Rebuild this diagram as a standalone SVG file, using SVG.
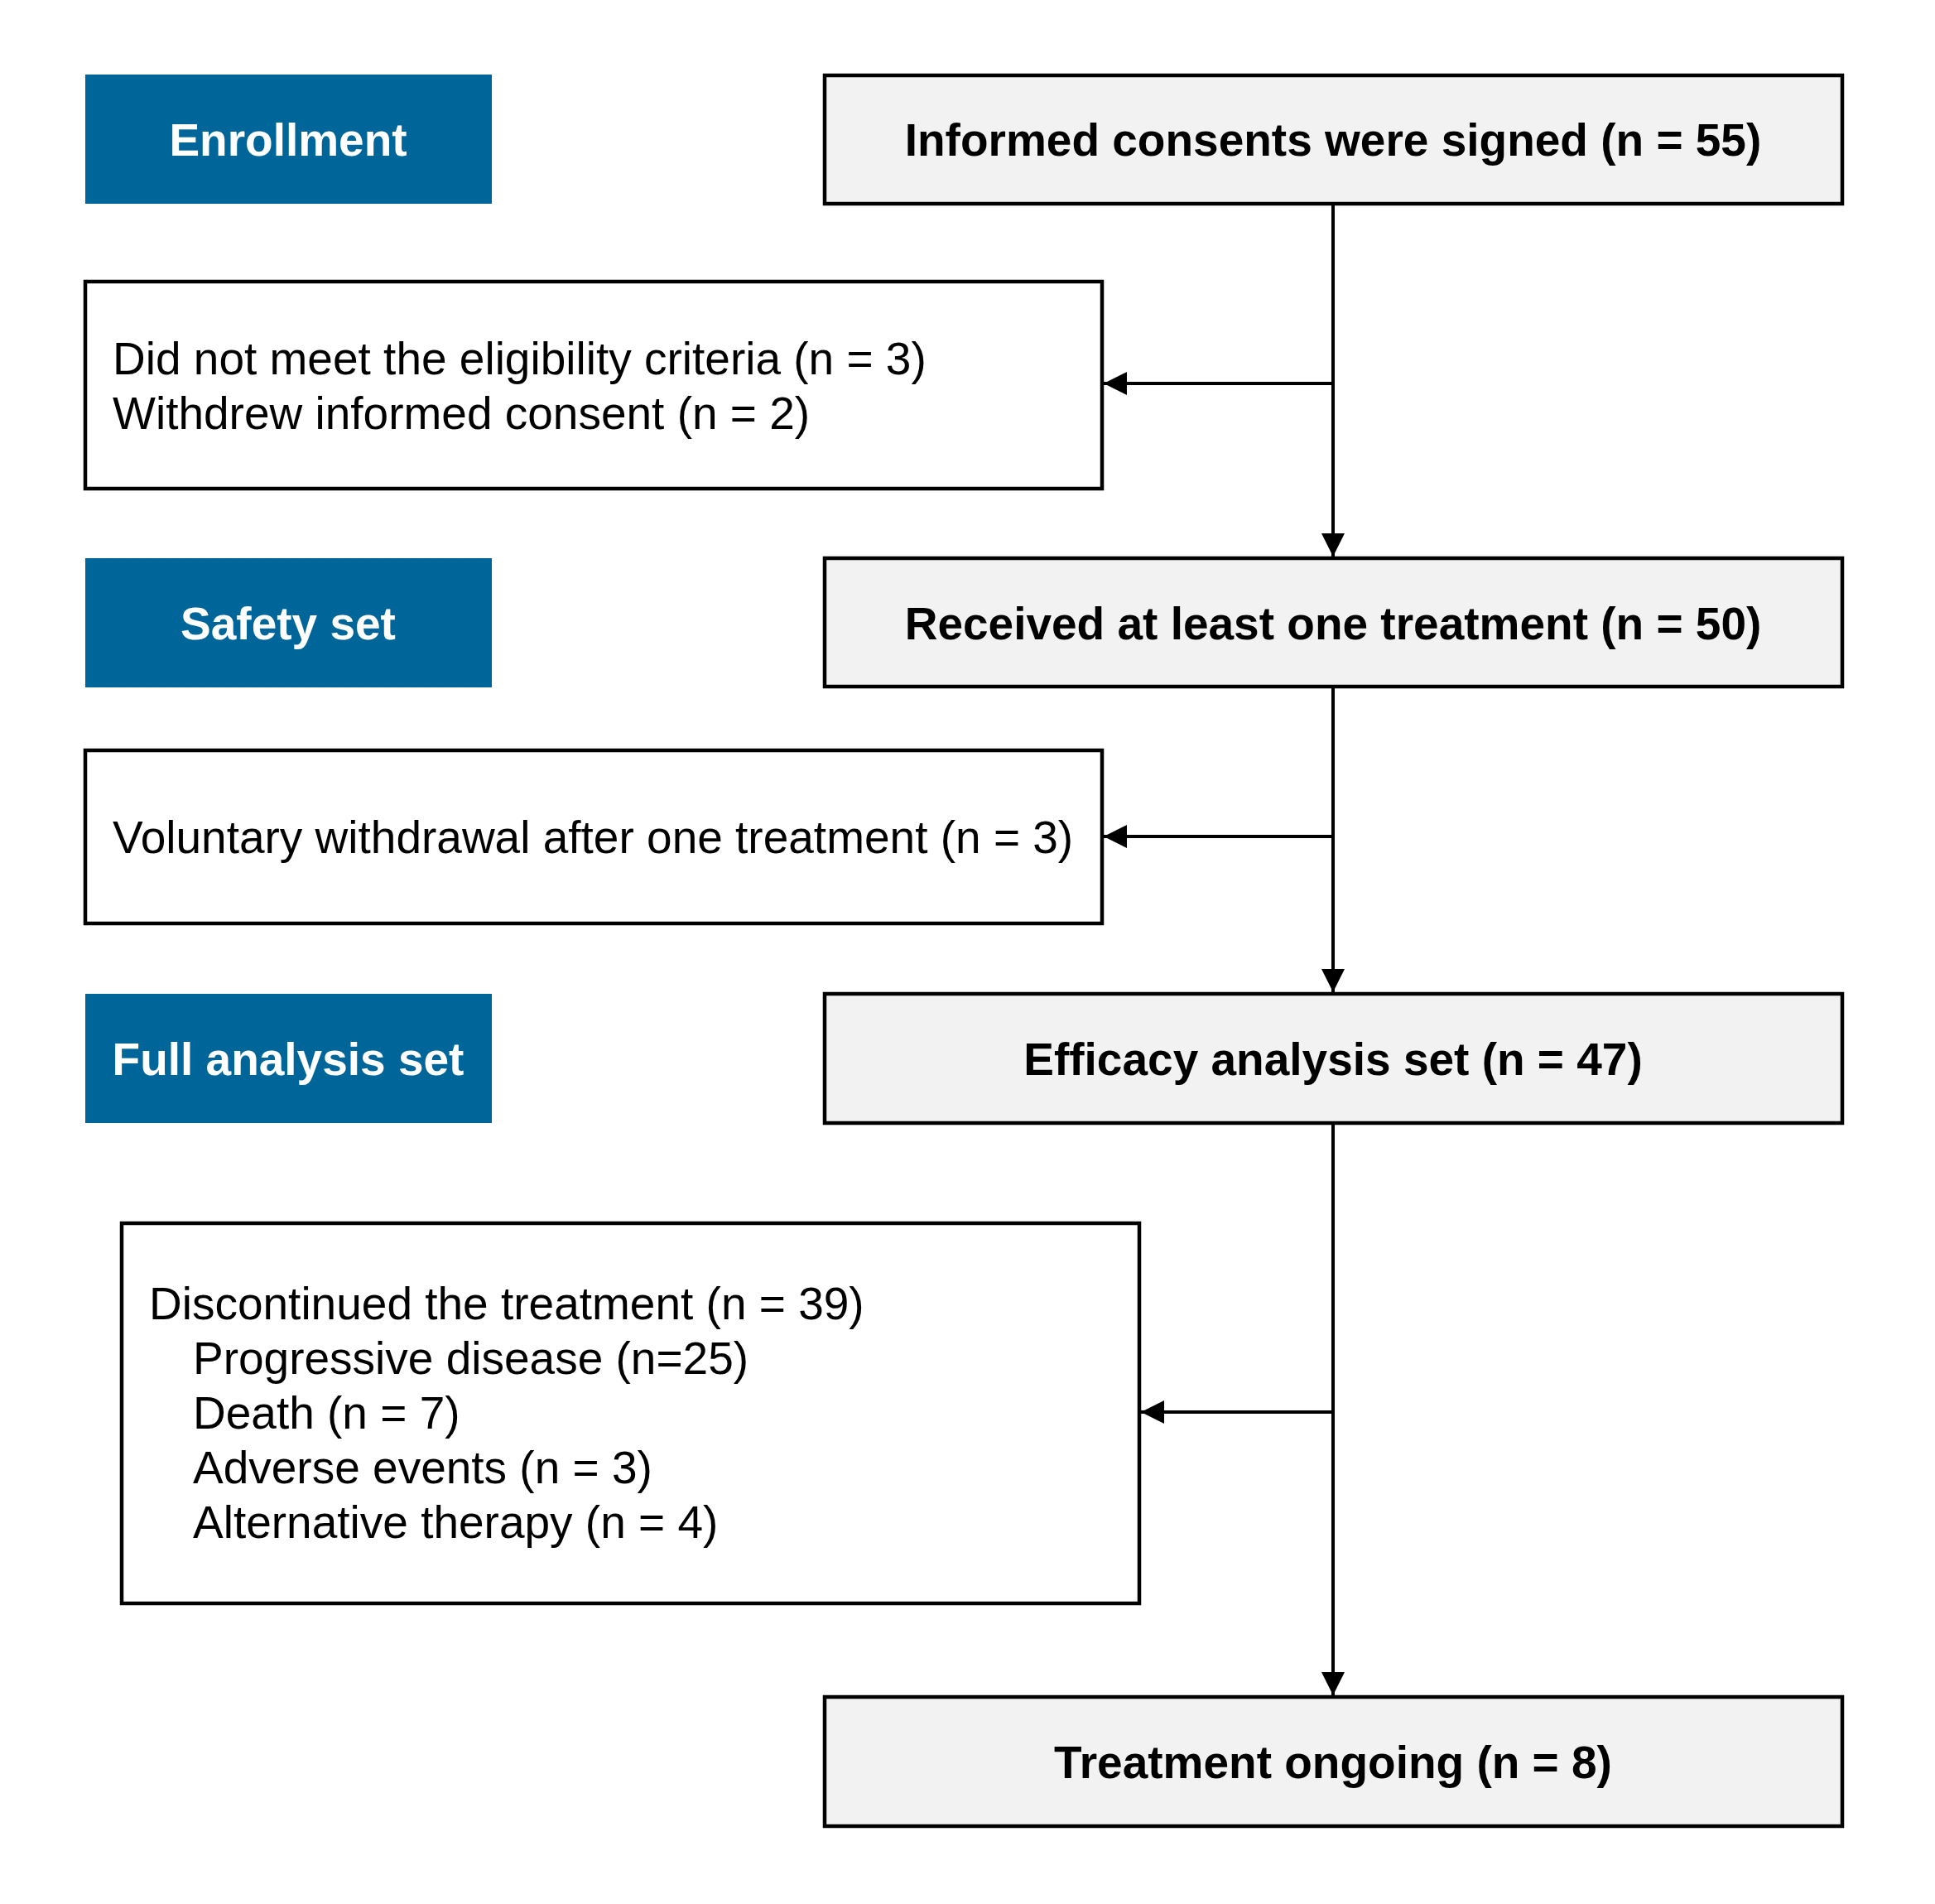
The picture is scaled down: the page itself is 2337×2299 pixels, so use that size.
<svg xmlns="http://www.w3.org/2000/svg" width="2337" height="2299" viewBox="0 0 2337 2299">
<style>
.lab{fill:#006699}
.main{fill:#F2F2F2;stroke:#000;stroke-width:4.5}
.side{fill:#fff;stroke:#000;stroke-width:4.5}
.lt{font-family:"Liberation Sans",Arial,sans-serif;font-weight:bold;font-size:55px;fill:#fff;text-anchor:middle}
.mt{font-family:"Liberation Sans",Arial,sans-serif;font-weight:bold;font-size:55px;fill:#000;text-anchor:middle}
.st{font-family:"Liberation Sans",Arial,sans-serif;font-size:55px;fill:#000}
.c{stroke:#000;stroke-width:4;fill:none}
</style>
<defs>
<marker id="ah" viewBox="0 0 10 10" refX="10" refY="5" markerWidth="7" markerHeight="7" markerUnits="strokeWidth" orient="auto">
<path d="M0,0 L10,5 L0,10 z" fill="#000"/>
</marker>
</defs>
<rect width="2337" height="2299" fill="#fff"/>
<g id="connectors">
<line class="c" x1="1610" y1="248" x2="1610" y2="672" marker-end="url(#ah)"/>
<line class="c" x1="1610" y1="463" x2="1333" y2="463" marker-end="url(#ah)"/>
<line class="c" x1="1610" y1="831" x2="1610" y2="1198" marker-end="url(#ah)"/>
<line class="c" x1="1610" y1="1010" x2="1333" y2="1010" marker-end="url(#ah)"/>
<line class="c" x1="1610" y1="1358" x2="1610" y2="2047" marker-end="url(#ah)"/>
<line class="c" x1="1610" y1="1705" x2="1378" y2="1705" marker-end="url(#ah)"/>
</g>
<g id="enrollment"><rect class="lab" x="103" y="90" width="491" height="156"/><text class="lt" x="348" y="188">Enrollment</text></g>
<g id="safety"><rect class="lab" x="103" y="674" width="491" height="156"/><text class="lt" x="348" y="772">Safety set</text></g>
<g id="fullset"><rect class="lab" x="103" y="1200" width="491" height="156"/><text class="lt" x="348" y="1298">Full analysis set</text></g>
<g id="consents"><rect class="main" x="996" y="91" width="1229" height="155"/><text class="mt" x="1610" y="188">Informed consents were signed (n = 55)</text></g>
<g id="received"><rect class="main" x="996" y="674" width="1229" height="155"/><text class="mt" x="1610" y="772">Received at least one treatment (n = 50)</text></g>
<g id="efficacy"><rect class="main" x="996" y="1200" width="1229" height="156"/><text class="mt" x="1610" y="1298">Efficacy analysis set (n = 47)</text></g>
<g id="ongoing"><rect class="main" x="996" y="2049" width="1229" height="156"/><text class="mt" x="1610" y="2147">Treatment ongoing (n = 8)</text></g>
<g id="excluded"><rect class="side" x="103" y="340" width="1228" height="250"/>
<text class="st" x="136" y="452">Did not meet the eligibility criteria (n = 3)</text>
<text class="st" x="136" y="518">Withdrew informed consent (n = 2)</text></g>
<g id="withdrawal"><rect class="side" x="103" y="906" width="1228" height="209"/>
<text class="st" x="136" y="1030">Voluntary withdrawal after one treatment (n = 3)</text></g>
<g id="discontinued"><rect class="side" x="147" y="1477" width="1229" height="459"/>
<text class="st" x="180" y="1593">Discontinued the treatment (n = 39)</text>
<text class="st" x="233" y="1659">Progressive disease (n=25)</text>
<text class="st" x="233" y="1725">Death (n = 7)</text>
<text class="st" x="233" y="1791">Adverse events (n = 3)</text>
<text class="st" x="233" y="1857">Alternative therapy (n = 4)</text></g>
</svg>
